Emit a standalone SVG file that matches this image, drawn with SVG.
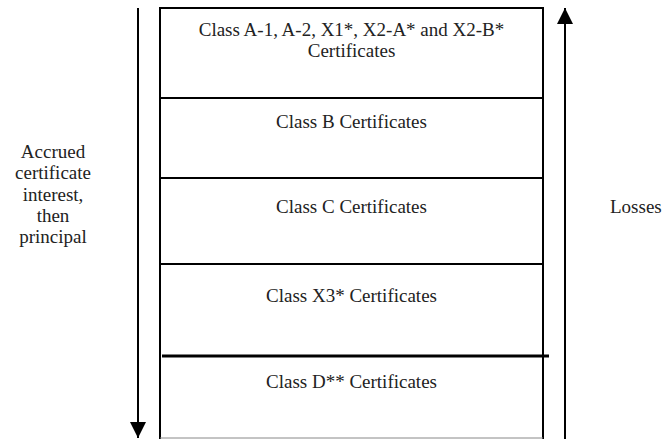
<svg xmlns="http://www.w3.org/2000/svg" width="672" height="439" viewBox="0 0 672 439">
<style>
  .t { font-family: 'Liberation Serif', 'DejaVu Serif', serif; font-size: 19px; fill: #222; }
  .c { text-anchor: middle; }
  .box { fill: none; stroke: #000; stroke-width: 2; }
  .div { stroke: #000; stroke-width: 2; }
  .arr { stroke: #000; stroke-width: 2; fill: none; }
</style>
<defs>
  <marker id="ah" viewBox="0 0 16 16" refX="16" refY="8" markerWidth="16" markerHeight="16" markerUnits="userSpaceOnUse" orient="auto">
    <path d="M0,0 L16,8 L0,16 z" fill="#000"/>
  </marker>
</defs>
<rect width="672" height="439" fill="#fff"/>
<g id="stack">
  <path class="box" d="M160,439 L160,8 L543,8 L543,439"/>
  <line class="div" x1="160" y1="98" x2="543" y2="98"/>
  <line class="div" x1="160" y1="178" x2="543" y2="178"/>
  <line class="div" x1="160" y1="264" x2="543" y2="264"/>
  <line x1="162" y1="356" x2="549" y2="356" stroke="#000" stroke-width="3"/>
  <line x1="160" y1="438" x2="543" y2="438" stroke="#888" stroke-width="1"/>
</g>
<g class="t" font-family="Liberation Serif, serif" font-size="19">
<g id="classA"><text class="c" x="351.5" y="36">Class A-1, A-2, X1*, X2-A* and X2-B*</text><text class="c" x="351.5" y="57">Certificates</text></g>
<g id="classB"><text class="c" x="351.5" y="128">Class B Certificates</text></g>
<g id="classC"><text class="c" x="351.5" y="213">Class C Certificates</text></g>
<g id="classX3"><text class="c" x="351.5" y="302">Class X3* Certificates</text></g>
<g id="classD"><text class="c" x="351.5" y="388">Class D** Certificates</text></g>
<g id="leftlabel">
  <text class="c" x="53" y="158">Accrued</text>
  <text class="c" x="53" y="179">certificate</text>
  <text class="c" x="53" y="201">interest,</text>
  <text class="c" x="53" y="222">then</text>
  <text class="c" x="53" y="243">principal</text>
</g>
<g id="losses"><text x="610" y="213">Losses</text></g>
</g>
<g id="connectors">
  <line class="arr" x1="138" y1="8" x2="138" y2="438" marker-end="url(#ah)"/>
  <line class="arr" x1="565" y1="439" x2="565" y2="8" marker-end="url(#ah)"/>
</g>
</svg>
